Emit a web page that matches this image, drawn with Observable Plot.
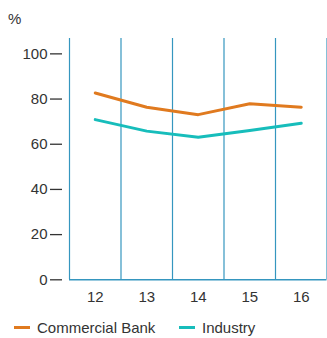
<!DOCTYPE html>
<html>
<head>
<meta charset="utf-8">
<script src="https://cdn.jsdelivr.net/npm/d3@7"></script>
<script src="https://cdn.jsdelivr.net/npm/@observablehq/plot@0.6"></script>
<style>
  html, body { margin: 0; padding: 0; background: #fff; }
  #wrap { position: relative; width: 327px; height: 338px; font-family: "Liberation Sans", Arial, sans-serif; color: #333; overflow: hidden; }
  #unit { position: absolute; left: 8px; top: 11px; font-size: 15px; line-height: 15px; }
  #chart { position: absolute; left: 0; top: 30px; }
  .leg { position: absolute; top: 319.5px; font-size: 15px; line-height: 15px; white-space: nowrap; }
  .sw { position: absolute; top: 326px; height: 3px; width: 16px; }
</style>
</head>
<body>
<div id="wrap">
  <div id="unit">%</div>
  <div id="chart"></div>
</div>
<script>
const years = [12, 13, 14, 15, 16];
const commercialBank = [82.7, 76.4, 73.1, 77.9, 76.4];
const industry = [70.9, 65.8, 63.1, 66.1, 69.3];
const yTicks = [0, 20, 40, 60, 80, 100];
const seriesNames = ["Commercial Bank", "Industry"];
const seriesColors = ["#e07a1f", "#17bdbb"];

const data = years.flatMap((y, i) => [
  {year: y, value: commercialBank[i], series: seriesNames[0]},
  {year: y, value: industry[i], series: seriesNames[1]}
]);
const bounds = years.map(y => y - 0.5).concat([years[years.length - 1] + 0.5]);
const yTop = 106.8;

const plot = Plot.plot({
  width: 327,
  height: 277,
  marginTop: 8,
  marginBottom: 27.7,
  marginLeft: 69,
  marginRight: 0.5,
  x: {type: "linear", domain: [bounds[0], bounds[bounds.length - 1]], axis: null},
  y: {domain: [0, yTop], axis: null},
  color: {domain: seriesNames, range: seriesColors},
  style: {fontFamily: "Liberation Sans, Arial, sans-serif", fontSize: "15px", color: "#333", overflow: "visible", background: "transparent"},
  marks: [
    Plot.ruleX(bounds, {y1: 0, y2: yTop, stroke: "#3596bf", strokeWidth: 1.2}),
    Plot.ruleY([0], {stroke: "#3596bf", strokeWidth: 1.4}),
    Plot.axisY(yTicks, {tickSize: 12, tickPadding: 3, dx: -7, color: "#333", fontSize: 15, strokeWidth: 1.3, label: null}),
    Plot.axisX(years, {tickSize: 0, tickPadding: 12, color: "#333", fontSize: 15, tickFormat: d => String(d), label: null}),
    Plot.line(data, {x: "year", y: "value", z: "series", stroke: "series", strokeWidth: 3, curve: "linear"})
  ]
});
document.getElementById("chart").appendChild(plot);

const wrap = document.getElementById("wrap");
const legendPos = [{sw: 14, tx: 37}, {sw: 179, tx: 202}];
seriesNames.forEach((name, i) => {
  const sw = document.createElement("div");
  sw.className = "sw";
  sw.style.left = legendPos[i].sw + "px";
  sw.style.background = seriesColors[i];
  wrap.appendChild(sw);
  const t = document.createElement("div");
  t.className = "leg";
  t.style.left = legendPos[i].tx + "px";
  t.textContent = name;
  wrap.appendChild(t);
});
</script>
</body>
</html>
